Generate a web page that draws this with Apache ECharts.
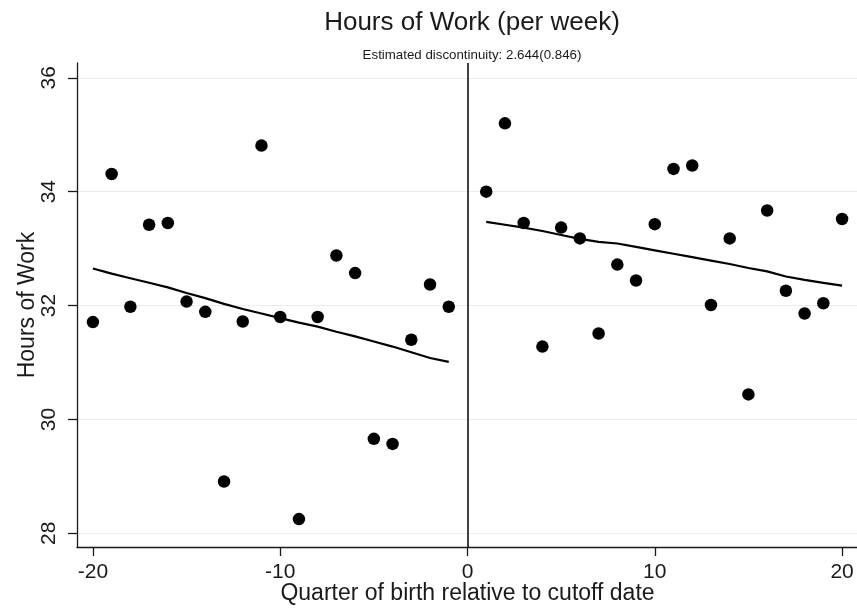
<!DOCTYPE html>
<html>
<head>
<meta charset="utf-8">
<script src="https://cdn.jsdelivr.net/npm/echarts@6/dist/echarts.min.js"></script>
<style>
  html, body { margin: 0; padding: 0; background: #ffffff; }
  #chart { width: 857px; height: 613px; }
</style>
</head>
<body>
<div id="chart"></div>
<script>
// Quarter of birth relative to the school-entry cutoff date
const quartersBefore = [-20, -19, -18, -17, -16, -15, -14, -13, -12, -11, -10, -9, -8, -7, -6, -5, -4, -3, -2, -1];
const quartersAfter = [1, 2, 3, 4, 5, 6, 7, 8, 9, 10, 11, 12, 13, 14, 15, 16, 17, 18, 19, 20];

// Mean weekly hours of work per quarter-of-birth cell
const hoursBefore = [31.71, 34.31, 31.98, 33.42, 33.45, 32.07, 31.89, 28.91, 31.72, 34.81,
                     31.80, 28.25, 31.80, 32.88, 32.57, 29.66, 29.57, 31.40, 32.37, 31.98];
const hoursAfter = [34.00, 35.20, 33.45, 31.28, 33.37, 33.18, 31.51, 32.72, 32.44, 33.43,
                    34.40, 34.46, 32.01, 33.18, 30.44, 33.67, 32.26, 31.86, 32.04, 33.52];

// Fitted values on each side of the cutoff
const fitBefore = [32.65, 32.56, 32.48, 32.40, 32.32, 32.22, 32.13, 32.03, 31.94, 31.86,
                   31.78, 31.70, 31.63, 31.54, 31.46, 31.37, 31.28, 31.18, 31.08, 31.01];
const fitAfter = [33.47, 33.42, 33.37, 33.31, 33.24, 33.17, 33.12, 33.09, 33.03, 32.97,
                  32.91, 32.85, 32.79, 32.73, 32.66, 32.60, 32.51, 32.45, 32.40, 32.35];

const xTicks = [-20, -10, 0, 10, 20];
const yTicks = [28, 30, 32, 34, 36];
const cutoff = 0;

const titleText = 'Hours of Work (per week)';
const subtitleText = 'Estimated discontinuity: 2.644(0.846)';
const xName = 'Quarter of birth relative to cutoff date';
const yName = 'Hours of Work';

const pairs = (xs, ys) => xs.map((x, i) => [x, ys[i]]);

const FONT = '"Liberation Sans", Arial, Helvetica, sans-serif';
const INK = '#1a1a1a';

const chart = echarts.init(document.getElementById('chart'), null, { renderer: 'canvas' });

const dotStyle = {
  type: 'scatter',
  symbol: 'circle',
  symbolSize: 12.5,
  itemStyle: { color: '#000000', opacity: 1 },
  silent: true,
  z: 3
};
const fitStyle = {
  type: 'line',
  showSymbol: false,
  symbol: 'none',
  lineStyle: { color: '#000000', width: 2.2 },
  silent: true,
  z: 4
};

chart.setOption({
  animation: false,
  backgroundColor: '#ffffff',
  title: [
    {
      text: titleText,
      left: 467,
      top: 5,
      textAlign: 'center',
      textStyle: { fontFamily: FONT, fontSize: 26, fontWeight: 'normal', color: INK }
    },
    {
      text: subtitleText,
      left: 467,
      top: 44,
      textAlign: 'center',
      textStyle: { fontFamily: FONT, fontSize: 13.3, fontWeight: 'normal', color: INK }
    }
  ],
  grid: {
    left: 77,
    top: 63,
    width: 781,
    height: 484,
    outerBoundsMode: 'none',
    containLabel: false
  },
  xAxis: {
    type: 'value',
    min: -20.85,
    max: 20.85,
    name: xName,
    nameLocation: 'middle',
    nameGap: 35,
    nameMoveOverlap: false,
    nameTextStyle: { fontFamily: FONT, fontSize: 23, color: INK },
    axisLine: { show: true, onZero: false, lineStyle: { color: INK, width: 1.3 } },
    axisTick: { show: true, length: 9, inside: false, customValues: xTicks, lineStyle: { color: INK, width: 1.3 } },
    axisLabel: { customValues: xTicks, margin: 15, fontFamily: FONT, fontSize: 21, color: INK },
    splitLine: { show: false }
  },
  yAxis: {
    type: 'value',
    min: 27.76,
    max: 36.26,
    name: yName,
    nameLocation: 'middle',
    nameGap: 38,
    nameMoveOverlap: false,
    nameTextStyle: { fontFamily: FONT, fontSize: 23, color: INK },
    axisLine: { show: true, onZero: false, lineStyle: { color: INK, width: 1.3 } },
    axisTick: { show: true, length: 9, inside: false, customValues: yTicks, lineStyle: { color: INK, width: 1.3 } },
    axisLabel: { customValues: yTicks, rotate: 90, margin: 17, fontFamily: FONT, fontSize: 21, color: INK },
    splitLine: { show: true, lineStyle: { color: '#ececec', width: 1.2 } }
  },
  series: [
    Object.assign({ name: 'before', data: pairs(quartersBefore, hoursBefore) }, dotStyle),
    Object.assign({ name: 'after', data: pairs(quartersAfter, hoursAfter) }, dotStyle),
    Object.assign({ name: 'fit before', data: pairs(quartersBefore, fitBefore) }, fitStyle),
    Object.assign({
      name: 'fit after',
      data: pairs(quartersAfter, fitAfter),
      markLine: {
        silent: true,
        symbol: ['none', 'none'],
        label: { show: false },
        lineStyle: { color: '#000000', width: 1.5, type: 'solid' },
        data: [{ xAxis: cutoff }]
      }
    }, fitStyle)
  ]
});
</script>
</body>
</html>
